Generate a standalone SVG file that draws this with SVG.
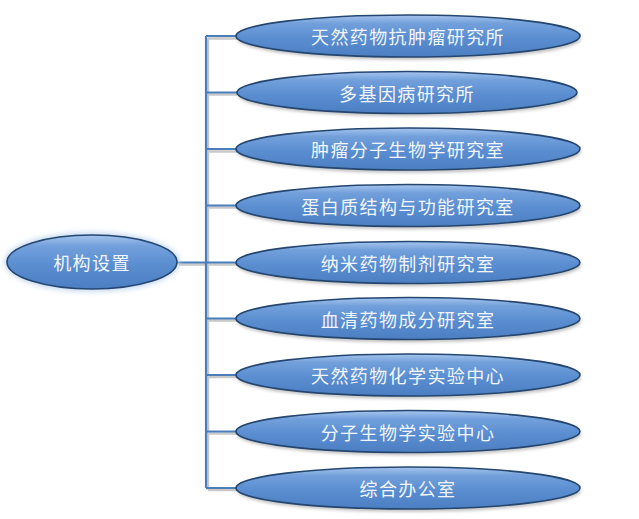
<svg xmlns="http://www.w3.org/2000/svg" width="639" height="519" viewBox="0 0 639 519">
<defs>
<linearGradient id="g" x1="0" y1="0" x2="0" y2="1">
<stop offset="0" stop-color="#a6c5ee"/>
<stop offset="0.2" stop-color="#73a0db"/>
<stop offset="0.55" stop-color="#5a8ed1"/>
<stop offset="1" stop-color="#4c7ec2"/>
</linearGradient>
<filter id="sh" x="-10%" y="-30%" width="120%" height="170%">
<feGaussianBlur stdDeviation="1.5"/>
</filter>
<filter id="glow" x="-10%" y="-30%" width="120%" height="160%">
<feGaussianBlur stdDeviation="2.5"/>
</filter>
</defs>
<style>
.e{fill:url(#g);stroke:#24466f;stroke-width:1.6}
.s{fill:#8a8a8a;opacity:0.5;filter:url(#sh)}
.t{font-family:"Noto Sans CJK SC","Noto Sans",sans-serif;font-size:18px;fill:#f2f6fb;text-anchor:middle;dominant-baseline:central;letter-spacing:1.4px}
.c{stroke:#4a7ebb;stroke-width:2.2;fill:none}
.cs{stroke:#c8c8c8;stroke-width:2.5;fill:none}
</style>
<rect width="639" height="519" fill="#ffffff"/>
<g id="connectors">
<path class="cs" d="M179 264.5H237M208 38.5V490M208 38.5H237M208 94.5H237M208 151.5H237M208 207.5H237M208 320.5H237M208 377H237M208 433.5H237M208 490H237"/>
<path class="c" d="M177 262.5H237M206 36V488M206 36H237M206 92.5H237M206 149H237M206 205.5H237M206 318.5H237M206 375H237M206 431.5H237M206 488H237"/>
</g>
<g id="root">
<ellipse cx="92" cy="262" rx="88" ry="30" fill="#bcd3ee" opacity="0.8" filter="url(#glow)"/>
<ellipse class="e" cx="92" cy="262" rx="85" ry="27"/>
<text class="t" x="92" y="262">机构设置</text>
</g>
<g id="n1"><ellipse class="s" cx="409" cy="39" rx="172" ry="21"/><ellipse class="e" cx="408" cy="36" rx="172" ry="21"/><text class="t" x="408" y="36">天然药物抗肿瘤研究所</text></g>
<g id="n2"><ellipse class="s" cx="408" cy="95.5" rx="170" ry="21"/><ellipse class="e" cx="407" cy="92.5" rx="170" ry="21"/><text class="t" x="407" y="92.5">多基因病研究所</text></g>
<g id="n3"><ellipse class="s" cx="409" cy="152" rx="172" ry="21"/><ellipse class="e" cx="408" cy="149" rx="172" ry="21"/><text class="t" x="408" y="149">肿瘤分子生物学研究室</text></g>
<g id="n4"><ellipse class="s" cx="409" cy="208.5" rx="172" ry="21"/><ellipse class="e" cx="408" cy="205.5" rx="172" ry="21"/><text class="t" x="408" y="205.5">蛋白质结构与功能研究室</text></g>
<g id="n5"><ellipse class="s" cx="409" cy="265.5" rx="172" ry="21"/><ellipse class="e" cx="408" cy="262.5" rx="172" ry="21"/><text class="t" x="408" y="262.5">纳米药物制剂研究室</text></g>
<g id="n6"><ellipse class="s" cx="409" cy="321.5" rx="172" ry="21"/><ellipse class="e" cx="408" cy="318.5" rx="172" ry="21"/><text class="t" x="408" y="318.5">血清药物成分研究室</text></g>
<g id="n7"><ellipse class="s" cx="409" cy="378" rx="172" ry="21"/><ellipse class="e" cx="408" cy="375" rx="172" ry="21"/><text class="t" x="408" y="375">天然药物化学实验中心</text></g>
<g id="n8"><ellipse class="s" cx="409" cy="434.5" rx="172" ry="21"/><ellipse class="e" cx="408" cy="431.5" rx="172" ry="21"/><text class="t" x="408" y="431.5">分子生物学实验中心</text></g>
<g id="n9"><ellipse class="s" cx="409" cy="491" rx="172" ry="21"/><ellipse class="e" cx="408" cy="488" rx="172" ry="21"/><text class="t" x="408" y="488">综合办公室</text></g>
</svg>
